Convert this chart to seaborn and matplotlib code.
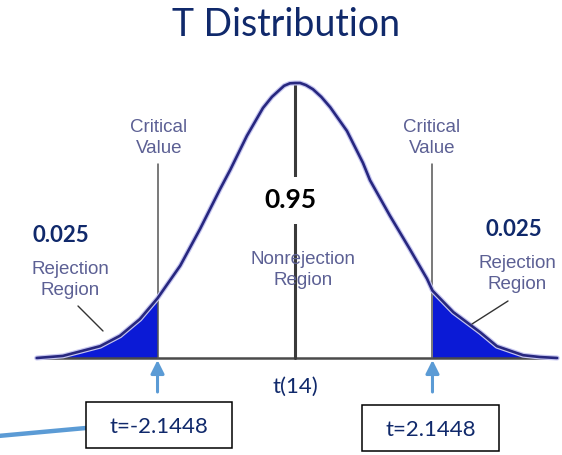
import numpy as np
import matplotlib
matplotlib.use("Agg")
import matplotlib.pyplot as plt
from matplotlib.patches import Rectangle
import seaborn as sns

# curve (t units, density)
t_curve = [-4.03, -3.62, -3.04, -2.73, -2.42, -2.1448, -1.79, -1.48, -1.17, -1.01,
           -0.75, -0.50, -0.36, -0.23, -0.17, -0.08, 0.0, 0.08, 0.17, 0.28, 0.41, 0.55,
           0.81, 1.06, 1.17, 1.48, 1.79, 2.06, 2.1448, 2.47, 2.89, 3.15, 3.56, 3.82, 4.09]
density = [0.0, 0.003, 0.017, 0.032, 0.056, 0.086, 0.133, 0.186, 0.243, 0.271,
           0.320, 0.360, 0.376, 0.387, 0.392, 0.3955, 0.396, 0.396, 0.393, 0.387, 0.376, 0.361,
           0.327, 0.281, 0.256, 0.205, 0.157, 0.114, 0.097, 0.066, 0.037, 0.017, 0.004, 0.0014, 0.0]
t_crit = [-2.1448, 2.1448]
tail_prob = ["0.025", "0.025"]
center_prob = "0.95"
df_label = "t(14)"
crit_labels = ["t=-2.1448", "t=2.1448"]

t_curve = np.array(t_curve)
density = np.array(density)

# pixel -> data helpers (layout only)
def PX(px):
    return (px - 295) / 64.1

def PY(py):
    return (359 - py) * 0.00144

sns.set_theme(style="white")
plt.rcParams["font.family"] = ["Lato", "DejaVu Sans"]

navy = "#10296b"
grey_blue = "#5c6094"
arrow_blue = "#5b9bd5"

fig = plt.figure(figsize=(5.62, 4.56), dpi=100)
ax = fig.add_axes([0, 0, 1, 1])
ax.set_xlim(PX(0), PX(562))
ax.set_ylim(PY(456), PY(0))
ax.axis("off")

# tails
left = t_curve <= t_crit[0]
right = t_curve >= t_crit[1]
ax.fill_between(t_curve[left], 0, density[left], color="#0b1ad6", lw=0, zorder=2)
ax.fill_between(t_curve[right], 0, density[right], color="#0b1ad6", lw=0, zorder=2)

# baseline
sns.lineplot(x=[t_curve[0], t_curve[-1]], y=[0, 0], ax=ax, color="#4a4a4a",
             lw=1.8, estimator=None, zorder=3)

# centre line
sns.lineplot(x=[0, 0], y=[0, density.max()], ax=ax, color="#3a3a3a", lw=2.2,
             estimator=None, sort=False, zorder=3)

# critical value lines
for c in t_crit:
    sns.lineplot(x=[c, c], y=[0, PY(165)], ax=ax, color="#555555", lw=1.1,
                 estimator=None, sort=False, zorder=3)

# density curve with soft halo
sns.lineplot(x=t_curve, y=density, ax=ax, sort=False, estimator=None, color="#c6c6f0",
             lw=3.6, solid_joinstyle="round", zorder=4)
sns.lineplot(x=t_curve, y=density, ax=ax, sort=False, estimator=None, color="#27277f",
             lw=1.9, solid_joinstyle="round", zorder=5)

# white patch + centre probability
ax.add_patch(Rectangle((PX(245), PY(225)), 95 / 64.1, 47 * 0.00144,
                       facecolor="white", edgecolor="none", zorder=6))
ax.text(PX(290), PY(200), center_prob, ha="center", va="center", fontsize=19,
        fontweight="bold", color="black", zorder=7)

# stock labels
lab = dict(ha="center", va="center", fontsize=13.5, color=grey_blue,
           family=["Liberation Sans", "DejaVu Sans"], linespacing=1.3, zorder=7)
ax.text(PX(159), PY(138), "Critical\nValue", **lab)
ax.text(PX(432), PY(138), "Critical\nValue", **lab)
ax.text(PX(70), PY(280), "Rejection\nRegion", **lab)
ax.text(PX(517), PY(274), "Rejection\nRegion", **lab)
ax.text(PX(303), PY(270), "Nonrejection\nRegion", **lab)

# tail probabilities
ax.text(PX(61), PY(236), tail_prob[0], ha="center", va="center", fontsize=16,
        fontweight="bold", color=navy)
ax.text(PX(514), PY(230), tail_prob[1], ha="center", va="center", fontsize=16,
        fontweight="bold", color=navy)

# pointer lines
ax.plot([PX(78), PX(103)], [PY(307), PY(332)], color="#333333", lw=1.0, zorder=7)
ax.plot([PX(508), PX(472)], [PY(302), PY(325)], color="#333333", lw=1.0, zorder=7)

# degrees of freedom label
ax.text(PX(295), PY(387), df_label, ha="center", va="center", fontsize=16, color=navy)

# arrows up to the critical values
for c in t_crit:
    ax.annotate("", xy=(c, PY(361)), xytext=(c, PY(393)),
                arrowprops=dict(arrowstyle="-|>", color=arrow_blue, lw=2.2,
                                mutation_scale=20, shrinkA=0, shrinkB=0))

# boxes with the critical t values
boxes = [(86, 403, 146, 46), (362, 406, 137, 46)]
for (bx, by, bw, bh), txt in zip(boxes, crit_labels):
    ax.add_patch(Rectangle((PX(bx), PY(by + bh)), bw / 64.1, bh * 0.00144,
                           facecolor="white", edgecolor="black", lw=1.1, zorder=6))
    ax.text(PX(bx + bw / 2), PY(by + bh / 2 + 1), txt, ha="center", va="center",
            fontsize=16, color=navy, zorder=7)

# connector running off to the left
ax.plot([PX(-2), PX(86)], [PY(437), PY(429)], color=arrow_blue, lw=3.2,
        solid_capstyle="butt", zorder=5)

fig.text(286 / 562, 1 - 25 / 456, "T Distribution", ha="center", va="center",
         fontsize=27, color=navy)

fig.savefig("out.png", dpi=100)
